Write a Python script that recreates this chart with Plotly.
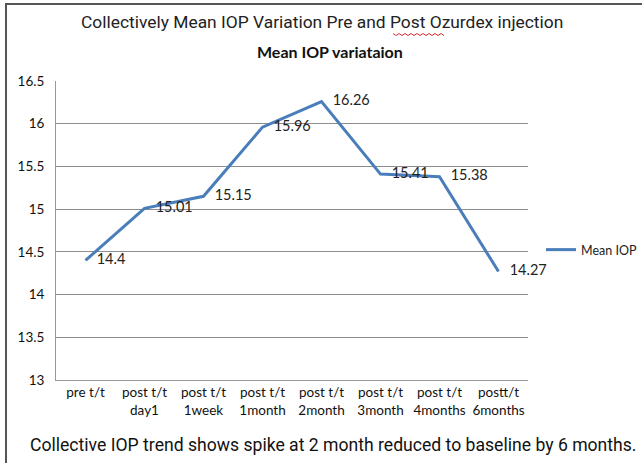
import plotly.graph_objects as go

categories = ["pre t/t", "post t/t<br>day1", "post t/t<br>1week", "post t/t<br>1month",
              "post t/t<br>2month", "post t/t<br>3month", "post t/t<br>4months", "postt/t<br>6months"]
mean_iop = [14.4, 15.01, 15.15, 15.96, 16.26, 15.41, 15.38, 14.27]
y_ticks = [13, 13.5, 14, 14.5, 15, 15.5, 16, 16.5]
y_tick_labels = ["13", "13.5", "14", "14.5", "15", "15.5", "16", "16.5"]

W, H = 642, 463
L, R, T, B = 56, 528, 81, 380

def px(x):
    return (x - L) / (R - L)

def py(y):
    return (B - y) / (B - T)

fig = go.Figure()
fig.add_trace(go.Scatter(
    x=list(range(len(categories))), y=mean_iop, mode="lines+text", name="Mean IOP",
    line=dict(color="#4A7EBB", width=3),
    text=["   " + f"{v:g}" for v in mean_iop], textposition="middle right",
    textfont=dict(family="Lato", size=14.5, color="#222"),
    cliponaxis=False,
))

# squiggly underline under "Ozurdex"
xs = list(range(393, 445, 3))
path = "M " + " L ".join(f"{px(x)},{py(34 + (1.5 if i % 2 else -0.5))}" for i, x in enumerate(xs))

fig.update_layout(
    width=W, height=H,
    margin=dict(l=L, r=W - R, t=T, b=H - B, autoexpand=False),
    paper_bgcolor="white", plot_bgcolor="white",
    showlegend=True,
    legend=dict(x=px(541), y=py(250), xanchor="left", yanchor="middle",
                font=dict(family="Lato", size=12.5, color="#222"), bgcolor="rgba(0,0,0,0)",
                itemwidth=30),
    xaxis=dict(range=[-0.5, 7.5], tickmode="array", tickvals=list(range(len(categories))),
               ticktext=categories, showgrid=False, showline=True, linecolor="#999",
               linewidth=1, ticks="", tickfont=dict(family="Lato", size=13.5, color="#111"),
               fixedrange=True, zeroline=False),
    yaxis=dict(range=[13, 16.5], tickmode="array", tickvals=y_ticks, ticktext=y_tick_labels,
               showgrid=True, gridcolor="#8c8c8c", gridwidth=1, showline=True, linecolor="#999",
               ticks="", tickfont=dict(family="Lato", size=13.5, color="#111"), zeroline=False,
               ticklabelstandoff=8, fixedrange=True),
    shapes=[
        dict(type="rect", xref="paper", yref="paper", x0=px(6), x1=px(660), y0=py(4), y1=py(480),
             line=dict(color="#555", width=2), layer="below"),
        dict(type="path", xref="paper", yref="paper", path=path,
             line=dict(color="#e03030", width=1)),
    ],
    annotations=[
        dict(text="Collectively Mean IOP Variation Pre and Post Ozurdex injection", xref="paper", yref="paper",
             x=px(322), y=py(22), showarrow=False, xanchor="center", yanchor="middle",
             font=dict(family="Roboto", size=17.4, color="#222")),
        dict(text="<b>Mean IOP variataion</b>", xref="paper", yref="paper",
             x=px(330), y=py(51), showarrow=False, xanchor="center", yanchor="middle",
             font=dict(family="Lato", size=16, color="#111")),
        dict(text="Collective IOP trend shows spike at 2 month reduced to baseline by 6 months.",
             xref="paper", yref="paper", x=px(333), y=py(445), showarrow=False,
             xanchor="center", yanchor="middle",
             font=dict(family="Roboto", size=17.6, color="#111")),
    ],
)

fig.write_html("out.html", config={"displayModeBar": False},
               post_script="document.body.style.margin='0';document.body.style.overflow='hidden';")
